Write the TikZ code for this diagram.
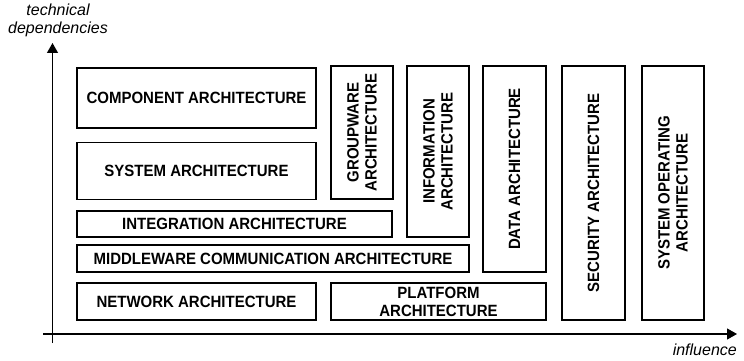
\documentclass[tikz,border=0pt]{standalone}
\usepackage{fontspec}
\setsansfont{Liberation Sans}[FakeStretch=0.92]
\newfontfamily\labelfont{Liberation Sans}
\usetikzlibrary{arrows.meta}
\usetikzlibrary{positioning}

\begin{document}
\begin{tikzpicture}[x=1pt,y=-1pt,
         archbox/.style = {draw,line width=1.1pt,inner sep=0pt,align=center,
         font=\sffamily\bfseries\fontsize{16.3}{18}\selectfont},
         upbox/.style = {archbox,rotate=90},
         axis/.style = {line width=1.1pt,-{Triangle[length=10pt,width=11pt]}},
         axislabel/.style = {font=\labelfont\itshape\fontsize{16}{18}\selectfont,
         inner sep=0pt,align=center}
]
      \useasboundingbox (0,0) rectangle (744,361);

      % axes
      \coordinate (o1) at (52.5,343);
      \coordinate (y1) at (52.5,43);
      \coordinate (o2) at (43,334);
      \coordinate (x1) at (737,334);
      \draw[axis] (o1) -- (y1);
      \draw[axis] (o2) -- (x1);
      \node[axislabel] (ylab) at (58,20) {technical\\dependencies};
      \node[axislabel,anchor=base east] (xlab) at (737,355) {influence};

      % horizontal layers
      \node[archbox,minimum width=239pt,minimum height=60pt] (comp) at (196.5,98)
      {COMPONENT ARCHITECTURE};
      \node[archbox,minimum width=239pt,minimum height=57pt] (sys) at (196.5,171)
      {SYSTEM ARCHITECTURE};
      \node[archbox,minimum width=315pt,minimum height=26pt] (integ) at (234.5,224)
      {INTEGRATION ARCHITECTURE};
      \node[archbox,minimum width=392pt,minimum height=27pt] (mid) at (273,258.5)
      {MIDDLEWARE COMMUNICATION ARCHITECTURE};
      \node[archbox,minimum width=239pt,minimum height=37pt] (net) at (196.5,301.5)
      {NETWORK ARCHITECTURE};
      \node[archbox,minimum width=215pt,minimum height=37pt] (plat) at (438.5,301.5)
      {PLATFORM\\ARCHITECTURE};

      % vertical columns
      \node[upbox,minimum width=133pt,minimum height=62pt] (group) at (362,132.5)
      {GROUPWARE\\ARCHITECTURE};
      \node[upbox,minimum width=171pt,minimum height=62pt] (info) at (438,151.5)
      {INFORMATION\\ARCHITECTURE};
      \node[upbox,minimum width=206pt,minimum height=63pt] (data) at (514.5,169)
      {DATA ARCHITECTURE};
      \node[upbox,minimum width=254pt,minimum height=63pt] (sec) at (593.5,193)
      {SECURITY ARCHITECTURE};
      \node[upbox,minimum width=254pt,minimum height=62pt] (sysop) at (673,193)
      {SYSTEM OPERATING\\ARCHITECTURE};

\end{tikzpicture}
\end{document}
